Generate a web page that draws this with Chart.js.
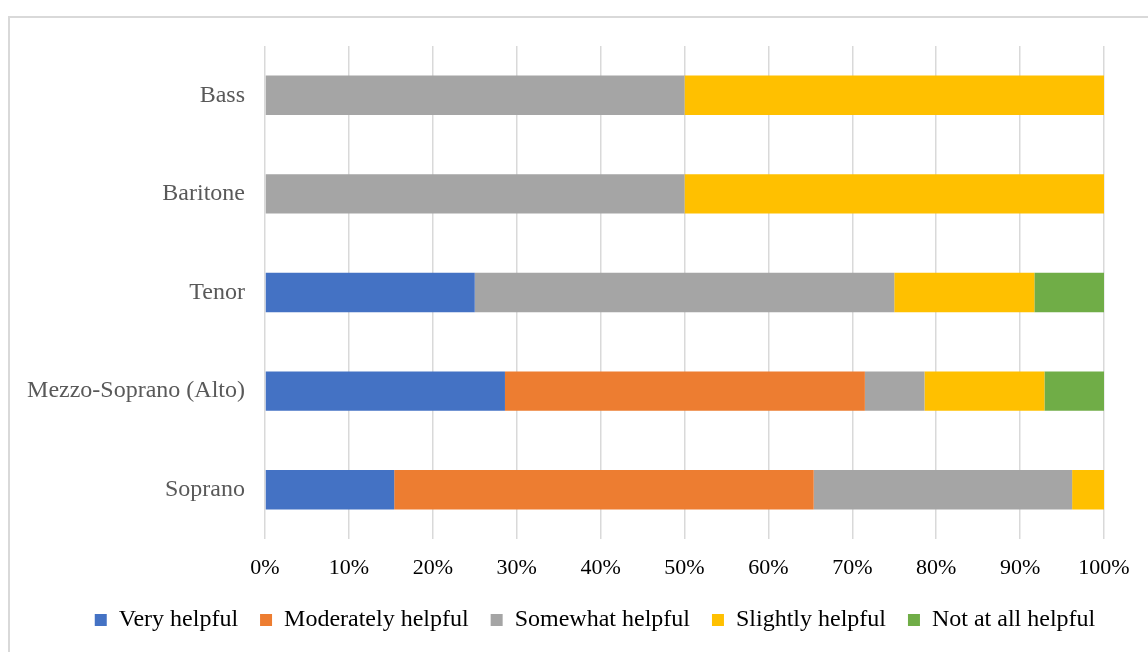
<!DOCTYPE html>
<html>
<head>
<meta charset="utf-8">
<script src="https://cdn.jsdelivr.net/npm/chart.js@4/dist/chart.umd.min.js"></script>
<style>
  html, body { margin: 0; padding: 0; background: #fff; overflow: hidden; }
  #frame { position: absolute; left: 8px; top: 16px; width: 1200px; height: 700px;
           border-left: 2px solid #d9d9d9; border-top: 2px solid #d9d9d9; }
  #wrap { position: absolute; left: 0; top: 0; width: 1148px; height: 652px; }
</style>
</head>
<body>
<div id="frame"></div>
<div id="wrap"><canvas id="chart" width="1148" height="652"></canvas></div>
<script>
// voice types, top to bottom
const voices = ["Bass", "Baritone", "Tenor", "Mezzo-Soprano (Alto)", "Soprano"];

// share of responses per voice type (%)
const veryHelpful       = [0, 0, 25, 28.6, 15.4];
const moderatelyHelpful = [0, 0, 0, 42.9, 50];
const somewhatHelpful   = [50, 50, 50, 7.1, 30.8];
const slightlyHelpful   = [50, 50, 16.7, 14.3, 3.8];
const notAtAllHelpful   = [0, 0, 8.3, 7.1, 0];

const seriesNames = ["Very helpful", "Moderately helpful", "Somewhat helpful", "Slightly helpful", "Not at all helpful"];
const seriesColours = ["#4472C4", "#ED7D31", "#A5A5A5", "#FFC000", "#70AD47"];
const seriesData = [veryHelpful, moderatelyHelpful, somewhatHelpful, slightlyHelpful, notAtAllHelpful];

const serif = "'Liberation Serif', 'Times New Roman', serif";

const datasets = seriesNames.map((name, i) => ({
  label: name,
  data: seriesData[i],
  backgroundColor: seriesColours[i],
  borderWidth: 0,
  barPercentage: 0.4,
  categoryPercentage: 1,
}));

// the legend row sits a bit right of centre in the original
const nudgeLegend = {
  id: "nudgeLegend",
  afterLayout(chart) {
    const lg = chart.legend;
    if (!lg) return;
    lg.left += 43;
    lg.right += 43;
  },
};

new Chart(document.getElementById("chart").getContext("2d"), {
  type: "bar",
  data: { labels: voices, datasets },
  plugins: [nudgeLegend],
  options: {
    indexAxis: "y",
    responsive: false,
    animation: false,
    layout: { padding: { top: 46, right: 44, left: 0, bottom: 10 } },
    plugins: {
      tooltip: { enabled: false },
      legend: {
        position: "bottom",
        labels: {
          font: { family: serif, size: 24 },
          color: "#000",
          boxWidth: 12,
          boxHeight: 12,
          padding: 22,
        },
      },
    },
    scales: {
      x: {
        stacked: true,
        min: 0,
        max: 100,
        border: { display: false },
        grid: { color: "#d9d9d9", lineWidth: 1.5, drawTicks: false },
        ticks: {
          stepSize: 10,
          padding: 16,
          color: "#000",
          font: { family: serif, size: 22 },
          callback: (v) => v + "%",
        },
        afterFit: (s) => { s.height = 47; },
      },
      y: {
        stacked: true,
        border: { display: false },
        grid: { display: false, drawTicks: false },
        ticks: { padding: 20, color: "#595959", font: { family: serif, size: 24 } },
        afterFit: (s) => { s.width = 265; },
      },
    },
  },
});
</script>
</body>
</html>
